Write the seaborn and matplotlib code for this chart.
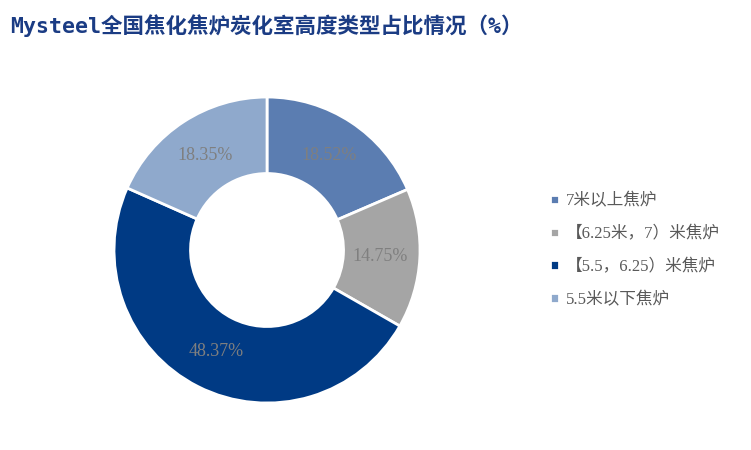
import matplotlib
matplotlib.use("Agg")
import matplotlib.pyplot as plt
import seaborn as sns

# Data

categories = ["7米以上焦炉", "【6.25米，7）米焦炉", "【5.5，6.25）米焦炉", "5.5米以下焦炉"]
shares = [18.52, 14.75, 48.37, 18.35]
colors = ["#5B7DB1", "#A5A5A5", "#003A84", "#8FA9CC"]

sns.set_theme(style="white")
plt.rcParams["font.family"] = ["Liberation Serif", "Noto Sans CJK SC", "DejaVu Sans"]

fig = plt.figure(figsize=(7.51, 4.5), dpi=100)

# Title

fig.text(
    0.013, 0.942,
    "Mysteel全国焦化焦炉炭化室高度类型占比情况（%）",
    fontsize=15.5,
    fontweight="bold",
    color="#1B3C84",
    family=["DejaVu Sans Mono", "Noto Sans CJK SC"],
    va="center"
)

# Donut

ax = fig.add_axes([0.1518, 0.1044, 0.4075, 0.68])

wedges, texts, autotexts = ax.pie(
    shares,
    colors=colors,
    startangle=90,
    counterclock=False,
    autopct=lambda p: f"{p:.2f}%",
    pctdistance=0.74,
    radius=1.0,
    wedgeprops=dict(width=0.5, edgecolor="white", linewidth=2),
)

for t in autotexts:
    t.set_color("#7F7F7F")
    t.set_fontsize(13)
    t.set_family("Liberation Serif")

ax.set_aspect("equal")
ax.set_xlim(-1.0, 1.0)
ax.set_ylim(-1.0, 1.0)

# Legend

fig.legend(
    wedges,
    categories,
    loc="center left",
    bbox_to_anchor=(0.713, 0.443),
    frameon=False,
    fontsize=12,
    handlelength=0.5,
    handleheight=0.5,
    handletextpad=0.45,
    labelspacing=1.0,
    labelcolor="#595959",
)

plt.savefig("out.png", dpi=100)
